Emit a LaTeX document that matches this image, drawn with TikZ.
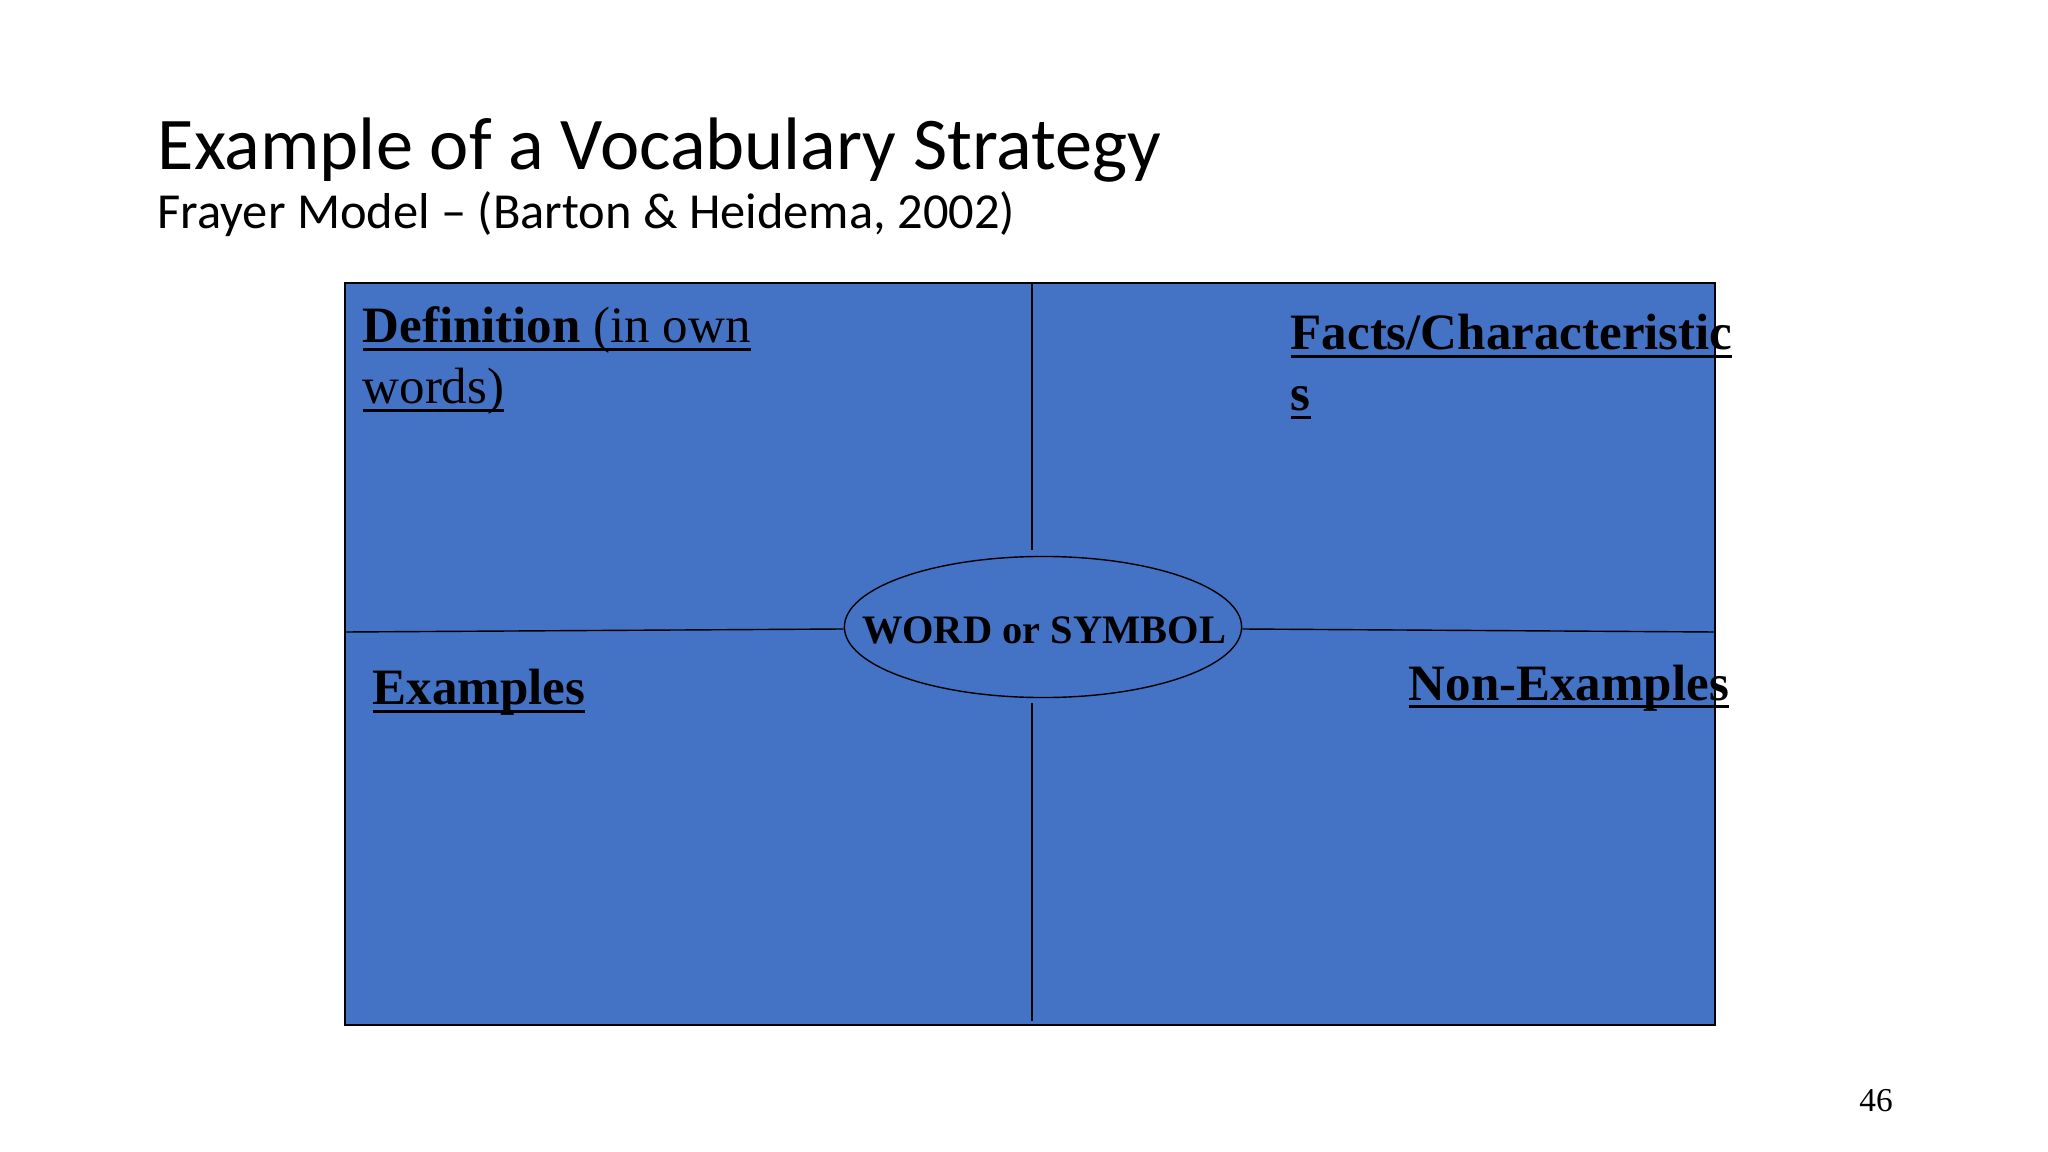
\documentclass[tikz,border=0pt]{standalone}
\usepackage{fontspec}
\setmainfont{Liberation Serif}
\newfontfamily\slidefont{Carlito}
\usetikzlibrary{shapes.geometric}
\definecolor{frayerblue}{HTML}{4472C4}
\newcommand{\uwords}[1]{\setbox0\hbox{#1}\leavevmode
  \rlap{\raisebox{-2.4pt}{\rule{\wd0}{1pt}}}\box0}
\tikzset{
  quadlabel/.style={anchor=base west,inner sep=0pt,
    font=\fontsize{14.5}{17.3}\selectfont},
  divider/.style={draw=black,line width=0.4pt}
}
\begin{document}
\begin{tikzpicture}[x=0.01cm,y=-0.01cm]
  \useasboundingbox (0,0) rectangle (2048,1152);

  % heading
  \node[anchor=base west,inner sep=0pt,font=\slidefont\fontsize{21.15}{26}\selectfont]
    (title) at (157,170) {Example of a Vocabulary Strategy};
  \node[anchor=base west,inner sep=0pt,font=\slidefont\fontsize{14.35}{18}\selectfont]
    (subtitle) at (157,229) {Frayer Model – (Barton \& Heidema, 2002)};

  % frame
  \coordinate (nw) at (345,283);
  \coordinate (se) at (1715,1025);
  \draw[divider,fill=frayerblue] (nw) rectangle (se);

  \node[ellipse,draw,fill=frayerblue,line width=0.4pt,minimum width=3.97cm,
    minimum height=1.41cm,inner sep=0pt] (oval) at (1043,627) {};
  \node[inner sep=0pt,font=\bfseries\fontsize{11.5}{14}\selectfont]
    (word) at (1044,630) {WORD or SYMBOL};

  \coordinate (leftmid)  at (345,632);
  \coordinate (rightmid) at (1715,632);
  \coordinate (topmid)   at (1032,283);
  \coordinate (botmid)   at (1032,1021);
  \draw[divider] (leftmid) -- ([yshift=-0.02cm]oval.west);
  \draw[divider] ([yshift=-0.02cm]oval.east) -- (rightmid);
  \draw[divider,shorten >=0.06cm] (topmid) -- (topmid |- oval.north);
  \draw[divider,shorten <=0.05cm] (botmid |- oval.south) -- (botmid);

  % quadrant labels
  \node[quadlabel] (defn) at (362,343) {\uwords{\textbf{Definition} (in own}};
  \node[quadlabel] (defnrest) at (362,404) {\uwords{words)}};
  \node[quadlabel] (facts) at (1290,350) {\uwords{\textbf{Facts/Characteristic}}};
  \node[quadlabel] (factsrest) at (1290,411) {\uwords{\textbf{s}}};
  \node[quadlabel] (examples) at (372,705) {\uwords{\textbf{Examples}}};
  \node[quadlabel] (nonex) at (1408,700) {\uwords{\textbf{Non-Examples}}};

  \node[anchor=base,inner sep=0pt,font=\fontsize{9.5}{11}\selectfont]
    (pagenum) at (1876,1111) {46};
\end{tikzpicture}
\end{document}
